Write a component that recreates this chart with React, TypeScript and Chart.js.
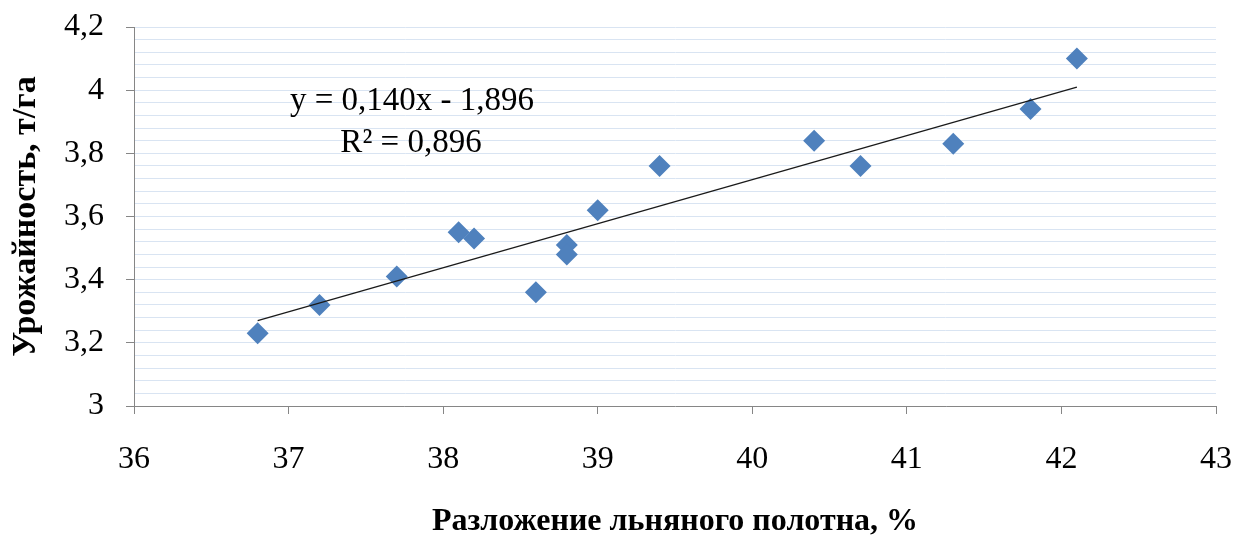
import React, { useEffect, useRef } from "react";
import { Chart, registerables } from "chart.js";

Chart.register(...registerables);

const xValues = [36.8, 37.2, 37.7, 38.1, 38.2, 38.6, 38.8, 38.8, 39.0, 39.4, 40.4, 40.7, 41.3, 41.8, 42.1];
const yValues = [3.23, 3.32, 3.41, 3.55, 3.53, 3.36, 3.51, 3.48, 3.62, 3.76, 3.84, 3.76, 3.83, 3.94, 4.10];
const trendX = [36.8, 42.1];
const trendY = [3.27, 4.01];
const equationText = "y = 0,140x - 1,896";
const r2Text = "R² = 0,896";
const xTitle = "Разложение льняного полотна, %";
const yTitle = "Урожайность, т/га";

const FONT = "'Liberation Serif', 'Times New Roman', serif";

export default function App() {
  const ref = useRef<HTMLCanvasElement | null>(null);
  useEffect(() => {
    if (!ref.current) return;
    const annot = {
      id: "annot",
      afterDraw(chart: any) {
        const ctx = chart.ctx;
        ctx.save();
        ctx.fillStyle = "#000";
        ctx.font = `33px ${FONT}`;
        ctx.textAlign = "center";
        ctx.textBaseline = "alphabetic";
        ctx.fillText(equationText, 412, 110);
        ctx.fillText(r2Text, 411, 152);
        ctx.restore();
      },
    };
    const chart = new Chart(ref.current, {
      type: "scatter",
      data: {
        datasets: [
          {
            type: "line",
            data: trendX.map((x, i) => ({ x, y: trendY[i] })),
            borderColor: "#1a1a1a",
            borderWidth: 1.3,
            pointRadius: 0,
            fill: false,
          } as any,
          {
            data: xValues.map((x, i) => ({ x, y: yValues[i] })),
            pointStyle: "rectRot",
            pointRadius: 11,
            backgroundColor: "#4f81bd",
            borderColor: "#4f81bd",
            borderWidth: 0,
          },
        ],
      },
      options: {
        responsive: false,
        animation: false,
        layout: { padding: { left: 0, right: 20, top: 27, bottom: 0 } },
        plugins: { legend: { display: false }, tooltip: { enabled: false } },
        scales: {
          x: {
            type: "linear",
            min: 36,
            max: 43,
            ticks: {
              stepSize: 1,
              font: { family: FONT, size: 32 },
              color: "#000",
              padding: 26,
            },
            grid: { drawOnChartArea: false, tickColor: "#868686", tickLength: 8 },
            border: { color: "#868686", width: 1 },
            title: {
              display: true,
              text: xTitle,
              font: { family: FONT, size: 32, weight: "bold", lineHeight: 1 },
              color: "#000",
              padding: { top: 0, bottom: -3 },
            },
            afterFit: (s: any) => {
              s.height = 129;
              s.paddingLeft = 0;
              s.paddingRight = 0;
            },
          },
          y: {
            type: "linear",
            min: 3,
            max: 4.2,
            ticks: {
              stepSize: 0.04,
              autoSkip: false,
              font: { family: FONT, size: 32 },
              color: "#000",
              padding: 22,
              callback: (v: any) => {
                const k = Math.round(Number(v) * 100);
                if (k % 20 !== 0) return "";
                return (k / 100).toString().replace(".", ",");
              },
            },
            grid: {
              color: "#d9e4f2",
              lineWidth: 1,
              tickLength: 8,
              tickColor: (c: any) => {
                const k = Math.round(Number(c.tick?.value) * 100);
                return k % 20 === 0 ? "#868686" : "rgba(0,0,0,0)";
              },
            },
            border: { color: "#868686", width: 1 },
            title: {
              display: true,
              text: yTitle,
              font: { family: FONT, size: 34, weight: "bold", lineHeight: 1 },
              color: "#000",
              padding: { top: 9, bottom: 0 },
            },
            afterFit: (s: any) => {
              s.width = 134;
              s.paddingTop = 0;
              s.paddingBottom = 0;
            },
          },
        },
      },
      plugins: [annot],
    } as any);
    return () => chart.destroy();
  }, []);
  return (
    <div style={{ position: "absolute", left: 0, top: 0, width: 1236, height: 535, background: "#fff" }}>
      <canvas ref={ref} width={1236} height={535} style={{ display: "block" }} />
    </div>
  );
}
